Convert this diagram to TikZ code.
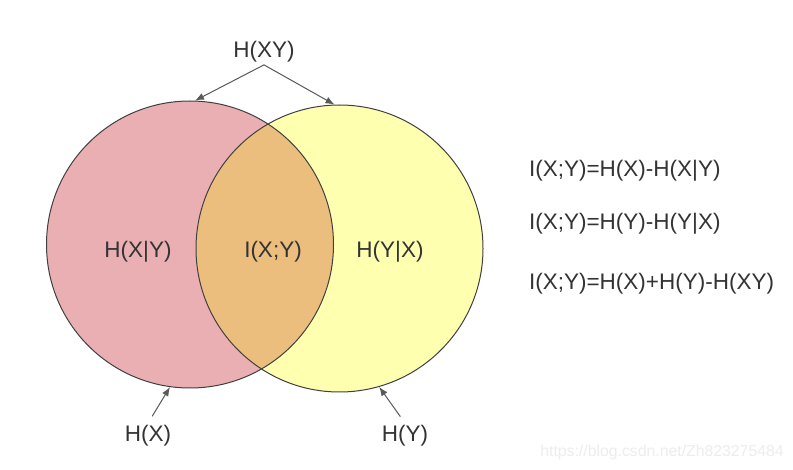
\documentclass[tikz,border=0pt]{standalone}
\usepackage{fontspec}
\setmainfont{Liberation Sans}
\usetikzlibrary{arrows.meta}

\definecolor{pinkfill}{HTML}{EAAFB3}
\definecolor{yellowfill}{HTML}{FFFFB0}
\definecolor{overlapfill}{HTML}{ECBE7E}
\definecolor{inkgray}{HTML}{333333}

\begin{document}
\begin{tikzpicture}[
    x=0.5pt, y=-0.5pt,
    every node/.style={font=\fontsize{11.25}{13}\selectfont, text=inkgray},
    venn/.style={circle, draw=black!75, line width=0.5pt, minimum size=143.5pt, inner sep=0pt},
    tag/.style={inner sep=1pt},
    pointer/.style={draw=black!65, line width=0.5pt, -{Latex[length=4.5pt,width=3.5pt]}}
]
    \useasboundingbox[fill=white] (0,0) rectangle (793,470);

    % Circles
    \node[venn, fill=pinkfill] (hx) at (190,244.5) {};
    \node[venn, fill=yellowfill, path picture={
        \fill[overlapfill] (hx.center) circle[radius=71.75pt];
        \draw[black!75, line width=0.5pt] (hx.center) circle[radius=71.75pt];
    }] (hy) at (339.5,248.5) {};

    % Region labels
    \node (hxgy) at (138,252) {H(X|Y)};
    \node (ixy) at (273,252) {I(X;Y)};
    \node (hygx) at (390,252) {H(Y|X)};

    % Entropy labels
    \node[tag] (hxy) at (264,52) {H(XY)};
    \node[tag] (hxl) at (148,436) {H(X)};
    \node[tag] (hyl) at (405,436) {H(Y)};

    % Connections
    \path[pointer] (hxy.south) -- (hx.88);
    \path[pointer] (hxy.south) -- (hy.92);
    \path[pointer, shorten <=4pt] (hxl.north) -- (hx.262.6);
    \path[pointer, shorten <=4pt] (hyl.north) -- (hy.286.7);

    % Formulas
    \node[anchor=west] (eqa) at (522,171) {I(X;Y)=H(X)-H(X|Y)};
    \node[anchor=west] (eqb) at (522,224) {I(X;Y)=H(Y)-H(Y|X)};
    \node[anchor=west] (eqc) at (522,284) {I(X;Y)=H(X)+H(Y)-H(XY)};

    % Watermark
    \node[font=\fontsize{7.9}{9}\selectfont, text=black!7] (mark) at (662,452) {https://blog.csdn.net/Zh823275484};
\end{tikzpicture}
\end{document}
